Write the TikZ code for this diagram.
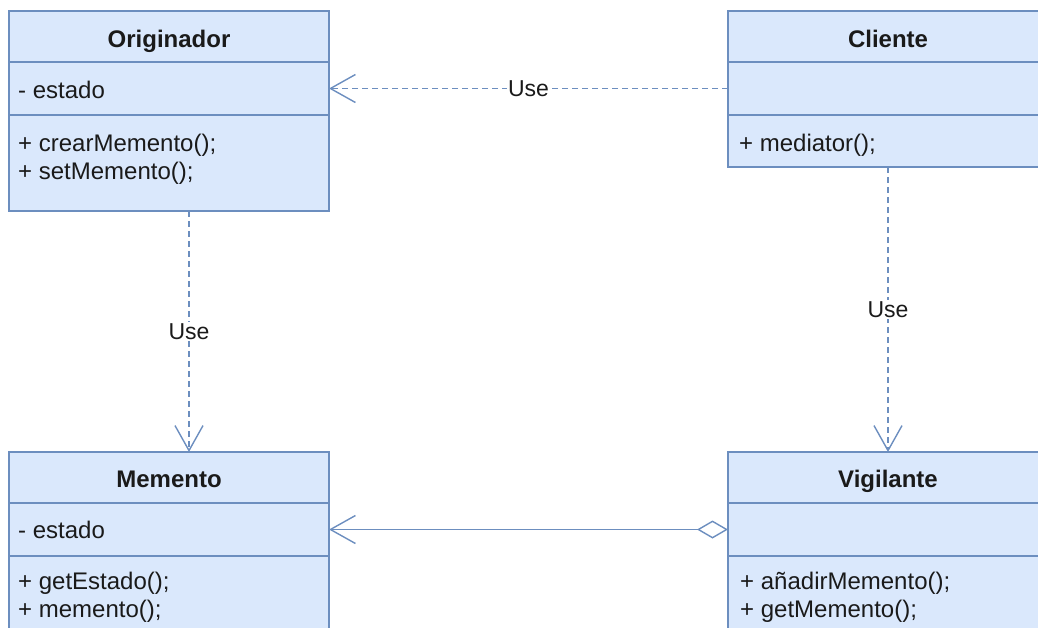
\documentclass[tikz,border=0pt]{standalone}
\usepackage{fontspec}
\setmainfont{Liberation Sans}
\usetikzlibrary{arrows.meta}
\definecolor{boxfill}{HTML}{DAE8FC}
\definecolor{boxline}{HTML}{6C8EBF}
\definecolor{txt}{HTML}{1A1A1A}
\begin{document}
\begin{tikzpicture}[x=1pt,y=-1pt,
  comp/.style={draw=boxline,fill=boxfill,line width=1.6pt,minimum width=320pt,inner sep=0pt,outer sep=0pt},
  title/.style={font=\fontsize{24}{28}\selectfont\bfseries,text=txt,inner sep=0pt,anchor=base},
  entry/.style={font=\fontsize{24}{28}\selectfont,text=txt,inner sep=0pt,anchor=base west},
  conn/.style={draw=boxline,line width=1.4pt},
  usedep/.style={conn,dash pattern=on 6pt off 4pt,-{Straight Barb[length=25pt,width=28pt,line width=1.4pt]}},
  aggr/.style={conn,{Diamond[open,length=31pt,width=18pt,line width=1.4pt,fill=white]}-{Straight Barb[length=25pt,width=28pt,line width=1.4pt]}},
  lbl/.style={fill=white,font=\fontsize{23}{26}\selectfont,text=txt,inner sep=1pt}
]
\useasboundingbox (0,0) rectangle (1038,627);
\clip (0,0) rectangle (1038,627);

% Originador
\node[comp,minimum height=51pt] (origh) at (169,36.5) {};
\node[comp,minimum height=53pt] (origf) at (169,88.5) {};
\node[comp,minimum height=96pt] (origm) at (169,163) {};
\node[title] (origt) at (169,47) {Originador};
\node[entry] (orige) at (18,98) {- estado};
\node[entry] (origm1) at (18,151) {+ crearMemento();};
\node[entry] (origm2) at (18,179) {+ setMemento();};

% Cliente
\node[comp,minimum height=51pt] (clih) at (888,36.5) {};
\node[comp,minimum height=53pt] (clif) at (888,88.5) {};
\node[comp,minimum height=52pt] (clim) at (888,141) {};
\node[title] (clit) at (888,47) {Cliente};
\node[entry] (clim1) at (739,151) {+ mediator();};

% Memento
\node[comp,minimum height=51pt] (memh) at (169,477.5) {};
\node[comp,minimum height=53pt] (memf) at (169,529.5) {};
\node[comp,minimum height=120pt] (memm) at (169,616) {};
\node[title] (memt) at (169,487) {Memento};
\node[entry] (meme) at (18,538) {- estado};
\node[entry] (memm1) at (18,589) {+ getEstado();};
\node[entry] (memm2) at (18,617) {+ memento();};

% Vigilante
\node[comp,minimum height=51pt] (vigh) at (888,477.5) {};
\node[comp,minimum height=53pt] (vigf) at (888,529.5) {};
\node[comp,minimum height=120pt] (vigm) at (888,616) {};
\node[title] (vigt) at (888,487) {Vigilante};
\node[entry] (vigm1) at (740,589) {+ añadirMemento();};
\node[entry] (vigm2) at (740,617) {+ getMemento();};

% connectors
\draw[usedep] (clif.west) -- node[lbl] (l1) {Use} (origf.east);
\draw[usedep] ([xshift=20pt]origm.south) -- node[lbl] (l2) {Use} ([xshift=20pt]memh.north);
\draw[usedep] (clim.south) -- node[lbl] (l3) {Use} (vigh.north);
\draw[aggr] (vigf.west) -- (memf.east);
\end{tikzpicture}
\end{document}
